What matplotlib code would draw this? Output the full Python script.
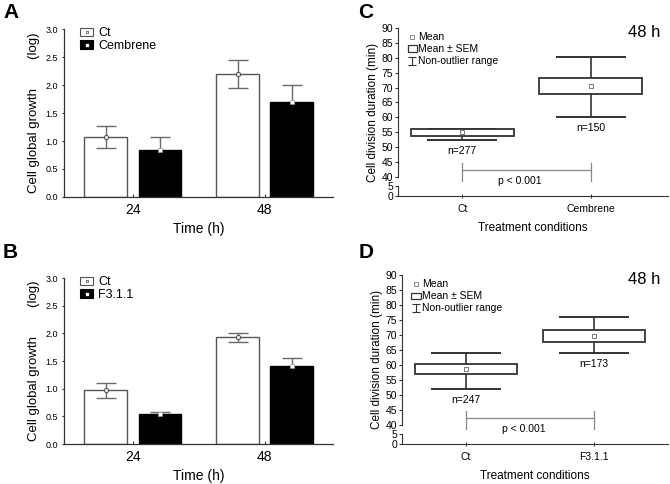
import numpy as np
import matplotlib
matplotlib.use('Agg')
import matplotlib.pyplot as plt
from matplotlib.patches import Rectangle
from matplotlib.lines import Line2D
from matplotlib.path import Path
from matplotlib.legend_handler import HandlerTuple

plt.rcParams['font.family'] = ['Liberation Sans', 'DejaVu Sans']

# --- data ---
time_labels = ['24', '48']

# panel A: Ct vs Cembrene (log cell growth, mean +/- sem)
a_ct_mean = [1.07, 2.20]
a_ct_err = [0.20, 0.25]
a_trt_mean = [0.84, 1.70]
a_trt_err = [0.23, 0.30]

# panel B: Ct vs F3.1.1
b_ct_mean = [0.97, 1.93]
b_ct_err = [0.14, 0.08]
b_trt_mean = [0.55, 1.41]
b_trt_err = [0.03, 0.15]

# panel C: division duration, Ct vs Cembrene
c_groups = ['Ct', 'Cembrene']
c_mean = [54.9, 70.6]
c_box_lo = [53.8, 67.9]
c_box_hi = [56.0, 73.1]
c_whisk_lo = [52.2, 60.0]
c_whisk_hi = [56.1, 80.2]
c_n = [277, 150]

# panel D: division duration, Ct vs F3.1.1
d_groups = ['Ct', 'F3.1.1']
d_mean = [58.7, 69.5]
d_box_lo = [57.0, 67.6]
d_box_hi = [60.4, 71.8]
d_whisk_lo = [51.8, 63.9]
d_whisk_hi = [63.9, 76.0]
d_n = [247, 173]

AX = '#333333'
ERR = '#6a6a6a'


def growth_panel(ax, ct_mean, ct_err, trt_mean, trt_err, trt_name):
    x = np.arange(len(time_labels))
    w = 0.325
    ax.bar(x - 0.205, ct_mean, w, color='white', edgecolor='#555555', lw=1, zorder=2)
    ax.bar(x + 0.205, trt_mean, w, color='black', edgecolor='black', lw=1, zorder=2)
    ax.errorbar(x - 0.205, ct_mean, yerr=ct_err, fmt='none', ecolor=ERR,
                elinewidth=1, capsize=7.5, capthick=1, zorder=3)
    ax.errorbar(x + 0.205, trt_mean, yerr=trt_err, fmt='none', ecolor=ERR,
                elinewidth=1, capsize=7.5, capthick=1, zorder=1)
    ax.plot(x - 0.205, ct_mean, 'o', ms=3, mfc='white', mec='#555555', mew=0.8, zorder=4)
    ax.plot(x + 0.205, trt_mean, 's', ms=2.5, mfc='white', mec='#999999', mew=0.5, zorder=4)

    ax.set_xlim(-0.523, 1.515)
    ax.set_ylim(0, 3.0)
    ax.set_xticks(x)
    ax.set_xticklabels(time_labels, fontsize=10)
    ax.set_yticks(np.arange(0, 3.01, 0.5))
    ax.set_yticklabels(['%.1f' % v for v in np.arange(0, 3.01, 0.5)], fontsize=6.5)
    ax.tick_params(axis='x', direction='in', length=2, color=AX, pad=4)
    ax.tick_params(axis='y', direction='out', length=1.5, color=AX, pad=3)
    for s in ['top', 'right']:
        ax.spines[s].set_visible(False)
    for s in ['left', 'bottom']:
        ax.spines[s].set_color(AX)
        ax.spines[s].set_linewidth(0.9)
    ax.set_xlabel('Time (h)', fontsize=10, labelpad=4)
    ax.set_ylabel('Cell global growth        (log)', fontsize=9.5, labelpad=4)

    h_ct = (Rectangle((0, 0), 1, 1, fc='white', ec='#555555', lw=0.8),
            Line2D([], [], ls='none', marker='s', ms=2, mfc='white', mec='#555555', mew=0.6))
    h_trt = (Rectangle((0, 0), 1, 1, fc='black', ec='black', lw=0.8),
             Line2D([], [], ls='none', marker='s', ms=2, mfc='white', mec='white'))
    ax.legend([h_ct, h_trt], ['Ct', trt_name], handler_map={tuple: HandlerTuple(ndivide=1)},
              loc='upper left', bbox_to_anchor=(0.04, 1.04), fontsize=9, frameon=False,
              handlelength=1.1, handleheight=0.65, handletextpad=0.4, labelspacing=0.05,
              borderaxespad=0)


def brk_fwd(v):
    v = np.asarray(v, dtype=float)
    return np.where(v <= 5, v * 0.66, np.where(v <= 40, 3.3 + (v - 5) * 3.2 / 35, 6.5 + (v - 40)))


def brk_inv(u):
    u = np.asarray(u, dtype=float)
    return np.where(u <= 3.3, u / 0.66, np.where(u <= 6.5, 5 + (u - 3.3) * 35 / 3.2, 40 + (u - 6.5)))


whisk_marker = Path([(-1, 1), (1, 1), (0, 1), (0, -1), (-1, -1), (1, -1)],
                    [Path.MOVETO, Path.LINETO, Path.MOVETO, Path.LINETO, Path.MOVETO, Path.LINETO])


def duration_panel(ax, groups, mean, box_lo, box_hi, wlo, whi, n, xright):
    x = np.arange(1, len(groups) + 1)
    mean = np.array(mean)
    ax.set_yscale('function', functions=(brk_fwd, brk_inv))
    ax.errorbar(x, mean, yerr=[mean - np.array(wlo), np.array(whi) - mean], fmt='none',
                ecolor=AX, elinewidth=1.2, capsize=25, capthick=1.4, zorder=2)
    ax.bar(x, np.array(box_hi) - np.array(box_lo), 0.8, bottom=box_lo, color='white',
           edgecolor=AX, lw=1.3, zorder=3)
    ax.plot(x, mean, 's', ms=2.5, mfc='white', mec='#777777', mew=0.7, zorder=4)
    for xi, lo, ni in zip(x, wlo, n):
        ax.annotate('n=%d' % ni, (xi, lo), xytext=(0, -7.5), textcoords='offset points',
                    ha='center', va='center', fontsize=7.5)

    # p-value bracket
    ax.plot([x[0], x[0], np.nan, x[0], x[-1], np.nan, x[-1], x[-1]],
            [25, 44.7, np.nan, 42.2, 42.2, np.nan, 25, 44.7], color='#888888', lw=0.9, zorder=2)
    ax.annotate('p < 0.001', (1.45, 42.2), xytext=(0, -8), textcoords='offset points',
                ha='center', va='center', fontsize=7.5)

    ax.set_xlim(0.5, xright)
    ax.set_ylim(0, 90)
    ax.set_yticks([0, 5] + list(range(40, 91, 5)))
    ax.set_yticklabels([str(t) for t in [0, 5] + list(range(40, 91, 5))], fontsize=7.5)
    ax.set_xticks(x)
    ax.set_xticklabels(groups, fontsize=7.5)
    ax.minorticks_off()
    ax.tick_params(axis='y', direction='out', length=2.5, color=AX, pad=1)
    ax.tick_params(axis='x', direction='inout', length=3, color=AX, pad=4)
    for s in ['top', 'right']:
        ax.spines[s].set_visible(False)
    ax.spines['bottom'].set_color(AX)
    ax.spines['left'].set_color(AX)
    ax.spines['left'].set_bounds(39.5, 90)
    ax.plot([0, 0], [0, 6.5], transform=ax.get_yaxis_transform(), color=AX, lw=0.8,
            clip_on=False, zorder=5)
    ax.set_xlabel('Treatment conditions', fontsize=8.5, labelpad=6)
    ax.set_ylabel('Cell division duration (min)', fontsize=8.5, labelpad=2)
    ax.text(0.97, 0.975, '48 h', transform=ax.transAxes, ha='right', va='center', fontsize=12)

    h_mean = Line2D([], [], ls='none', marker='s', ms=2.5, mfc='white', mec='#777777', mew=0.6)
    h_sem = Rectangle((0, 0), 1, 1, fc='white', ec=AX, lw=0.9)
    h_rng = Line2D([], [], ls='none', marker=whisk_marker, ms=6, mec=AX, mew=0.8)
    ax.legend([h_mean, h_sem, h_rng], ['Mean', 'Mean ± SEM', 'Non-outlier range'],
              loc='upper left', bbox_to_anchor=(0.02, 1.0), fontsize=7.5, frameon=False,
              handlelength=0.9, handleheight=0.55, handletextpad=0.15, labelspacing=0.2,
              borderaxespad=0)


fig = plt.figure(figsize=(6.7, 4.84), dpi=100)
ax_a = fig.add_axes([0.0955, 0.593, 0.401, 0.347])
ax_b = fig.add_axes([0.0955, 0.0826, 0.401, 0.343])
ax_c = fig.add_axes([0.594, 0.595, 0.403, 0.347])
ax_d = fig.add_axes([0.600, 0.0826, 0.397, 0.349])

growth_panel(ax_a, a_ct_mean, a_ct_err, a_trt_mean, a_trt_err, 'Cembrene')
growth_panel(ax_b, b_ct_mean, b_ct_err, b_trt_mean, b_trt_err, 'F3.1.1')
duration_panel(ax_c, c_groups, c_mean, c_box_lo, c_box_hi, c_whisk_lo, c_whisk_hi, c_n, 2.6)
duration_panel(ax_d, d_groups, d_mean, d_box_lo, d_box_hi, d_whisk_lo, d_whisk_hi, d_n, 2.58)

for lab, px, py in [('A', 3, 12.5), ('B', 3, 252.5), ('C', 358, 13), ('D', 359, 252)]:
    fig.text(px / 670, 1 - py / 484, lab, fontsize=15, fontweight='bold', ha='left', va='center')

fig.savefig('out.png', dpi=100)
